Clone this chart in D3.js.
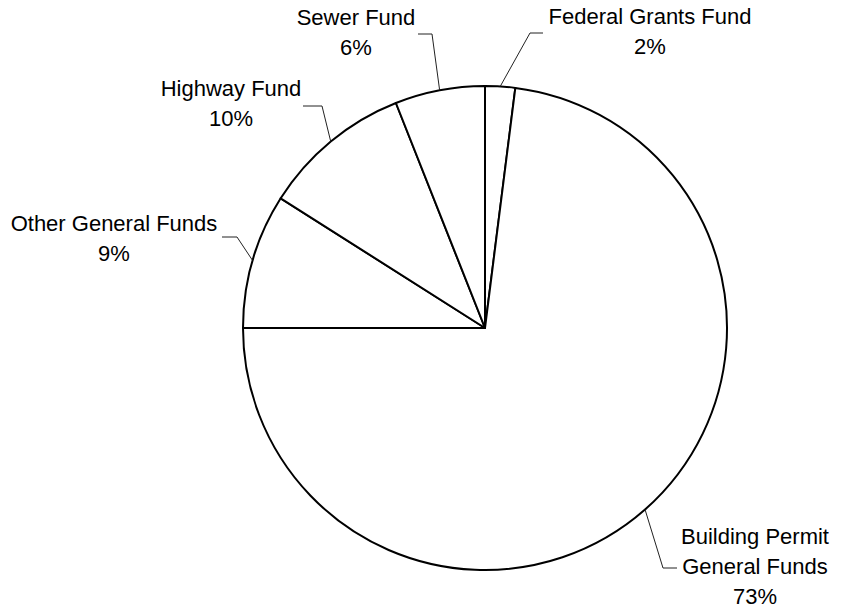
<!DOCTYPE html>
<html>
<head>
<meta charset="utf-8">
<script src="https://cdn.jsdelivr.net/npm/d3@7"></script>
<style>
  html, body { margin: 0; padding: 0; background: #fff; }
  svg { display: block; }
  text { font-family: "Liberation Sans", Arial, sans-serif; font-size: 22px; fill: #000; }
</style>
</head>
<body>
<svg id="chart" width="844" height="608"></svg>
<script>
// Fund shares, clockwise from 12 o'clock
const categories = ["Federal Grants Fund", "Building Permit General Funds", "Other General Funds", "Highway Fund", "Sewer Fund"];
const shares = [2, 73, 9, 10, 6];
const labelLines = [
  ["Federal Grants Fund"],
  ["Building Permit", "General Funds"],
  ["Other General Funds"],
  ["Highway Fund"],
  ["Sewer Fund"]
];

// Label placement: text centre x, first baseline y, leader elbow and end
const labelLayout = [
  { x: 650, y: 24,  elbow: [530, 33],  end: [543, 33] },
  { x: 755, y: 544, elbow: [663, 568], end: [677, 568] },
  { x: 114, y: 231, elbow: [237, 237], end: [222, 237] },
  { x: 231, y: 96,  elbow: [322, 106], end: [303, 106] },
  { x: 356, y: 25,  elbow: [432, 34],  end: [418, 34] }
];

const cx = 485, cy = 328, radius = 242, lineH = 30;

const data = categories.map((c, i) => ({ name: c, value: shares[i], lines: labelLines[i], layout: labelLayout[i] }));

const svg = d3.select("#chart");

const pie = d3.pie().value(d => d.value).sort(null);
const arc = d3.arc().innerRadius(0).outerRadius(radius);
const arcs = pie(data);

const g = svg.append("g").attr("transform", `translate(${cx},${cy})`);

g.selectAll("path.slice")
  .data(arcs)
  .join("path")
  .attr("class", "slice")
  .attr("d", arc)
  .attr("fill", "#fff")
  .attr("stroke", "#000")
  .attr("stroke-width", 2)
  .attr("stroke-linejoin", "round");

// Leader lines from the arc midpoint to each label
const leaders = svg.append("g");
arcs.forEach(a => {
  const mid = (a.startAngle + a.endAngle) / 2;
  const px = cx + radius * Math.sin(mid);
  const py = cy - radius * Math.cos(mid);
  const L = a.data.layout;
  leaders.append("polyline")
    .attr("points", [[px, py], L.elbow, L.end].map(p => p.join(",")).join(" "))
    .attr("fill", "none")
    .attr("stroke", "#222")
    .attr("stroke-width", 1);
});

// Labels: name lines followed by the percentage
const labels = svg.append("g");
arcs.forEach(a => {
  const L = a.data.layout;
  const t = labels.append("text").attr("text-anchor", "middle");
  const lines = a.data.lines.concat([d3.format("d")(a.data.value) + "%"]);
  lines.forEach((s, i) => {
    t.append("tspan").attr("x", L.x).attr("y", L.y + i * lineH).text(s);
  });
});
</script>
</body>
</html>
